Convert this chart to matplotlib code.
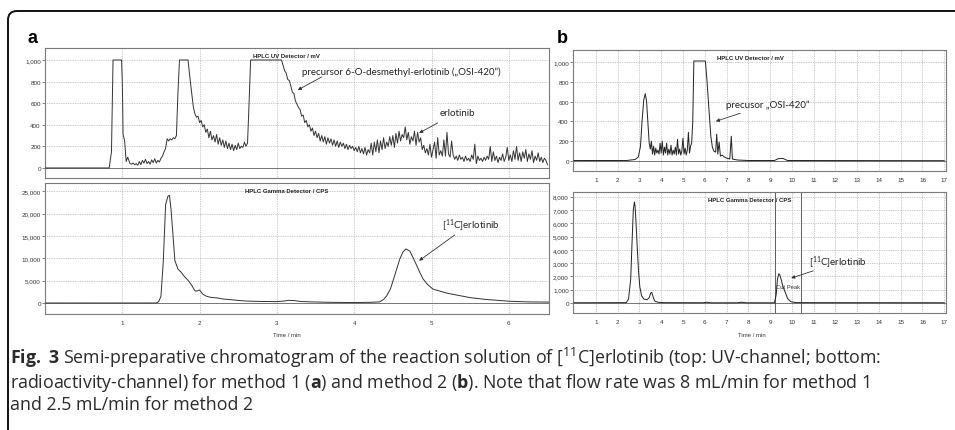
import numpy as np
import matplotlib
matplotlib.use("Agg")
import matplotlib.pyplot as plt
from matplotlib.patches import FancyBboxPatch
from matplotlib.ticker import FuncFormatter

plt.rcParams['font.family'] = ['Liberation Sans', 'DejaVu Sans']
plt.rcParams['mathtext.fontset'] = 'custom'
plt.rcParams['mathtext.rm'] = 'Open Sans'
plt.rcParams['mathtext.bf'] = 'Open Sans:bold'
plt.rcParams['mathtext.it'] = 'Open Sans:italic'
plt.rcParams['mathtext.default'] = 'regular'

# ---------------- data: panel a (method 1) ----------------
# UV trace, irregular breakpoints
a_uv_t1 = [0.0, 0.83, 0.86, 0.88, 0.99, 1.00, 1.01, 1.03, 1.05, 1.07]
a_uv_v1 = [0, 0, 150, 1000, 1000, 800, 310, 250, 60, 100]
# noisy baseline 1.10 .. 1.70 (step 0.02)
a_uv_n1 = [40, 35, 45, 30, 40, 25, 60, 30, 70, 45,
           80, 40, 60, 35, 75, 50, 85, 45, 70, 55,
           90, 110, 150, 180, 270, 250, 270, 260, 280, 270, 300]
a_uv_t2 = [1.72, 1.74, 1.85, 1.88]
a_uv_v2 = [700, 1000, 1000, 800]
# tail of second peak 1.92 .. 2.62 (step 0.02)
a_uv_n2 = [560, 500, 470, 480, 420, 440, 380, 400, 330, 360,
           280, 340, 260, 300, 240, 310, 220, 280, 210, 260,
           190, 250, 180, 230, 170, 220, 160, 210, 170, 230,
           180, 200, 190, 240, 200, 230]
a_uv_t3 = [2.64, 2.66, 3.06]
a_uv_v3 = [600, 1000, 1000]
# precursor tail and erlotinib 3.08 .. 6.50 (step 0.02)
a_uv_n3 = [950, 900, 880, 820, 810, 760, 700, 690, 620, 590,
           560, 540, 480, 490, 420, 440, 380, 400, 340, 370,
           300, 340, 280, 320, 250, 300, 240, 290, 220, 280,
           230, 270, 210, 260, 200, 250, 190, 240, 200, 230,
           180, 220, 170, 210, 180, 200, 160, 190, 150, 200,
           140, 180, 130, 190, 120, 170, 140, 230, 120, 240,
           150, 260, 140, 250, 170, 280, 180, 240, 200, 290,
           210, 300, 190, 320, 230, 340, 250, 310, 280, 380,
           260, 330, 220, 290, 250, 340, 210, 330, 240, 280,
           170, 210, 140, 180, 120, 220, 100, 170, 240, 90,
           280, 120, 160, 110, 260, 110, 330, 130, 100, 250,
           120, 80, 110, 70, 120, 80, 100, 60, 110, 70,
           90, 60, 120, 80, 220, 40, 110, 70, 90, 60,
           100, 70, 110, 80, 200, 60, 150, 70, 110, 50,
           100, 70, 130, 60, 100, 190, 70, 120, 60, 160,
           80, 200, 70, 140, 60, 150, 90, 170, 60, 130,
           80, 160, 50, 110, 70, 140, 60, 100, 50, 90,
           70, 30]

a_gam_t = [0, 1.44, 1.47, 1.50, 1.53, 1.56, 1.59, 1.61, 1.63, 1.65,
           1.68, 1.72, 1.76, 1.81, 1.86, 1.90, 1.94, 1.97, 2.00, 2.04,
           2.09, 2.15, 2.22, 2.30, 2.43, 2.55, 2.65, 2.80, 3.00, 3.10,
           3.15, 3.22, 3.30, 3.45, 3.70, 4.00, 4.20, 4.33, 4.38, 4.42,
           4.47, 4.51, 4.55, 4.59, 4.63, 4.67, 4.72, 4.76, 4.81, 4.85,
           4.89, 4.95, 5.02, 5.10, 5.20, 5.35, 5.50, 5.70, 6.00, 6.25, 6.52]
a_gam_v = [0, 0, 300, 1500, 9200, 22000, 23900, 24100, 21000, 16500,
           9500, 7600, 6900, 5800, 4900, 3900, 2700, 2700, 2900, 2000,
           1500, 1250, 1150, 900, 700, 500, 400, 350, 300, 450,
           600, 550, 350, 250, 150, 100, 150, 250, 800, 1600,
           3200, 5400, 7600, 9850, 11400, 12100, 11600, 10200, 8350, 6800,
           5400, 4100, 3100, 2700, 2200, 1700, 1200, 800, 400, 250, 200]

# ---------------- data: panel b (method 2) ----------------
b_uv_t1 = [0, 2.40, 2.80, 2.95, 3.05, 3.12, 3.20, 3.27, 3.33, 3.40, 3.45]
b_uv_v1 = [5, 5, 15, 40, 150, 400, 620, 680, 600, 350, 180]
# noisy region 3.50 .. 5.45 (step 0.05)
b_uv_n = [120, 200, 70, 150, 60, 130, 80, 110, 70, 180,
          80, 200, 60, 140, 80, 180, 60, 120, 70, 160,
          60, 110, 70, 140, 60, 220, 70, 120, 60, 100,
          230, 70, 130, 60, 110, 290, 80, 150, 180, 400]
b_uv_t2 = [5.50, 6.03, 6.10, 6.20, 6.28, 6.35, 6.42, 6.50, 6.55, 6.60,
           6.66, 6.72, 6.80, 6.90, 7.00, 7.15, 7.22, 7.27, 7.50, 8.00,
           9.20, 9.40, 9.60, 9.80, 17.0]
b_uv_v2 = [1010, 1010, 820, 500, 250, 140, 100, 90, 270, 70,
           190, 50, 60, 40, 30, 20, 250, 20, 10, 5,
           5, 25, 25, 5, 3]

b_gam_t = [0, 2.40, 2.50, 2.60, 2.66, 2.72, 2.77, 2.80, 2.84, 2.90,
           2.96, 3.02, 3.10, 3.20, 3.35, 3.45, 3.52, 3.57, 3.62, 3.70,
           3.85, 4.10, 5.9, 6.1, 6.3, 7.5, 7.7, 7.9, 9.20, 9.28,
           9.34, 9.40, 9.45, 9.52, 9.60, 9.70, 9.80, 9.95, 10.2, 17.0]
b_gam_v = [20, 30, 300, 1800, 4500, 7000, 7600, 7300, 6200, 4200,
           2400, 1200, 550, 300, 250, 400, 750, 800, 500, 150,
           60, 30, 20, 60, 15, 20, 60, 20, 15, 600,
           1800, 2200, 2100, 1700, 1200, 800, 350, 100, 30, 20]
cut_lines = [9.23, 10.41]


def grid_times(start, step, n):
    return list(np.round(start + step * np.arange(n), 3))


a_uv_t = (a_uv_t1 + grid_times(1.10, 0.02, len(a_uv_n1)) + a_uv_t2 +
          grid_times(1.92, 0.02, len(a_uv_n2)) + a_uv_t3 +
          grid_times(3.08, 0.02, len(a_uv_n3)))
a_uv_v = a_uv_v1 + a_uv_n1 + a_uv_v2 + a_uv_n2 + a_uv_v3 + a_uv_n3
b_uv_t = b_uv_t1 + grid_times(3.50, 0.05, len(b_uv_n)) + b_uv_t2
b_uv_v = b_uv_v1 + b_uv_n + b_uv_v2

W, H = 955, 431
fig = plt.figure(figsize=(W / 100, H / 100), dpi=100)
fig.patch.set_facecolor('white')


def px_axes(left, top, right, bottom):
    return fig.add_axes([left / W, 1 - bottom / H, (right - left) / W, (bottom - top) / H])


comma = FuncFormatter(lambda v, p: f"{int(v):,}")


def style(ax, xlim, ylim, yticks, xticks, title, title_x, show_xlabels=True):
    ax.set_xlim(*xlim)
    ax.set_ylim(*ylim)
    ax.set_yticks(yticks)
    ax.set_xticks(xticks)
    ax.yaxis.set_major_formatter(comma)
    ax.grid(True, color='#9a9a9a', linestyle=(0, (1, 1.5)), linewidth=0.5)
    ax.set_axisbelow(True)
    for s in ax.spines.values():
        s.set_color('#7a7a7a')
        s.set_linewidth(0.8)
    ax.tick_params(axis='y', length=2, width=0.5, color='#555555', labelsize=4.5,
                   pad=1, labelcolor='#333333')
    ax.tick_params(axis='x', length=0, labelsize=4.5, pad=4, labelcolor='#333333',
                   labelbottom=show_xlabels)
    ax.axhline(0, color='#666666', lw=0.6, zorder=1)
    ax.text(title_x, 0.96, title, transform=ax.transAxes, ha='center', va='top',
            fontsize=4.3, fontweight='bold', color='#222222')


arrow = dict(arrowstyle='-|>', lw=0.6, color='#333333', mutation_scale=5,
             shrinkA=0, shrinkB=0)
ann_font = dict(family=['Lato', 'DejaVu Sans'], fontsize=7.0, color='#222222',
                va='center', ha='left')

# panel a, UV
ax1 = px_axes(45, 49, 549, 179)
style(ax1, (0, 6.52), (-93, 1111), range(0, 1001, 200), range(1, 7),
      'HPLC UV Detector / mV', 0.48, show_xlabels=False)
ax1.plot(a_uv_t, a_uv_v, color='#333333', lw=0.7, zorder=3)
ax1.text(3.32, 892, 'precursor 6-O-desmethyl-erlotinib (\u201eOSI-420\u201d)', **ann_font)
ax1.annotate('', xy=(3.27, 722), xytext=(3.58, 843), arrowprops=arrow)
ax1.text(5.11, 509, 'erlotinib', **ann_font)
ax1.annotate('', xy=(4.84, 324), xytext=(5.08, 417), arrowprops=arrow)

# panel a, gamma
ax2 = px_axes(45, 184, 549, 315)
style(ax2, (0, 6.52), (-2462, 26858), range(0, 25001, 5000), range(1, 7),
      'HPLC Gamma Detector / CPS', 0.48)
ax2.plot(a_gam_t, a_gam_v, color='#333333', lw=0.7, zorder=3)
ax2.text(5.14, 17450, '[$^{11}$C]erlotinib', **ann_font)
ax2.annotate('', xy=(4.84, 9470), xytext=(5.30, 15220), arrowprops=arrow)

# panel b, UV
ax3 = px_axes(573, 51, 946, 172)
style(ax3, (-0.05, 17.08), (-101, 1121), range(0, 1001, 200), range(1, 18),
      'HPLC UV Detector / mV', 0.475)
ax3.plot(b_uv_t, b_uv_v, color='#222222', lw=0.7, zorder=3)
ax3.text(6.97, 573, 'precusor \u201eOSI-420\u201d', **ann_font)
ax3.annotate('', xy=(6.51, 401), xytext=(7.63, 482), arrowprops=arrow)

# panel b, gamma
ax4 = px_axes(573, 193, 946, 314)
style(ax4, (-0.05, 17.08), (-750, 8350), range(0, 8001, 1000), range(1, 18),
      'HPLC Gamma Detector / CPS', 0.475)
ax4.plot(b_gam_t, b_gam_v, color='#222222', lw=0.7, zorder=3)
for c in cut_lines:
    ax4.axvline(c, color='#444444', lw=0.6, zorder=2)
ax4.text(9.82, 1275, 'Cut Peak', fontsize=4.2, ha='center', va='center', color='#333333')
ax4.text(10.79, 3100, '[$^{11}$C]erlotinib', **ann_font)
ax4.annotate('', xy=(9.97, 1875), xytext=(10.98, 2420), arrowprops=arrow)

# axis titles
fig.text(287 / W, 1 - 336 / H, 'Time / min', fontsize=4.3, ha='center', va='center', color='#333333')
fig.text(752 / W, 1 - 336 / H, 'Time / min', fontsize=4.3, ha='center', va='center', color='#333333')

# overlay in pixel coordinates: frame, panel letters, caption
bg = fig.add_axes([0, 0, 1, 1], zorder=-1)
bg.set_xlim(0, W)
bg.set_ylim(H, 0)
bg.axis('off')
bg.add_patch(FancyBboxPatch((8, 12), 1000, 500, boxstyle='round,pad=0,rounding_size=9',
                            fill=False, edgecolor='#111111', lw=1.4))
bg.text(27, 43, 'a', fontsize=13, fontweight='bold', va='baseline', ha='left')
bg.text(557, 43, 'b', fontsize=13, fontweight='bold', va='baseline', ha='left')

caption = (r'$\mathbf{Fig.\ 3}$ Semi-preparative chromatogram of the reaction solution of '
           r'[$^{11}$C]erlotinib (top: UV-channel; bottom:' '\n'
           r'radioactivity-channel) for method 1 ($\mathbf{a}$) and method 2 ($\mathbf{b}$). '
           r'Note that flow rate was 8 mL/min for method 1' '\n'
           'and 2.5 mL/min for method 2')
bg.text(10, 346, caption, family=['Open Sans', 'DejaVu Sans'], fontsize=12.8,
        color='#2a2a2a', va='top', ha='left', linespacing=1.12)

fig.savefig('out.png', dpi=100, facecolor='white')
